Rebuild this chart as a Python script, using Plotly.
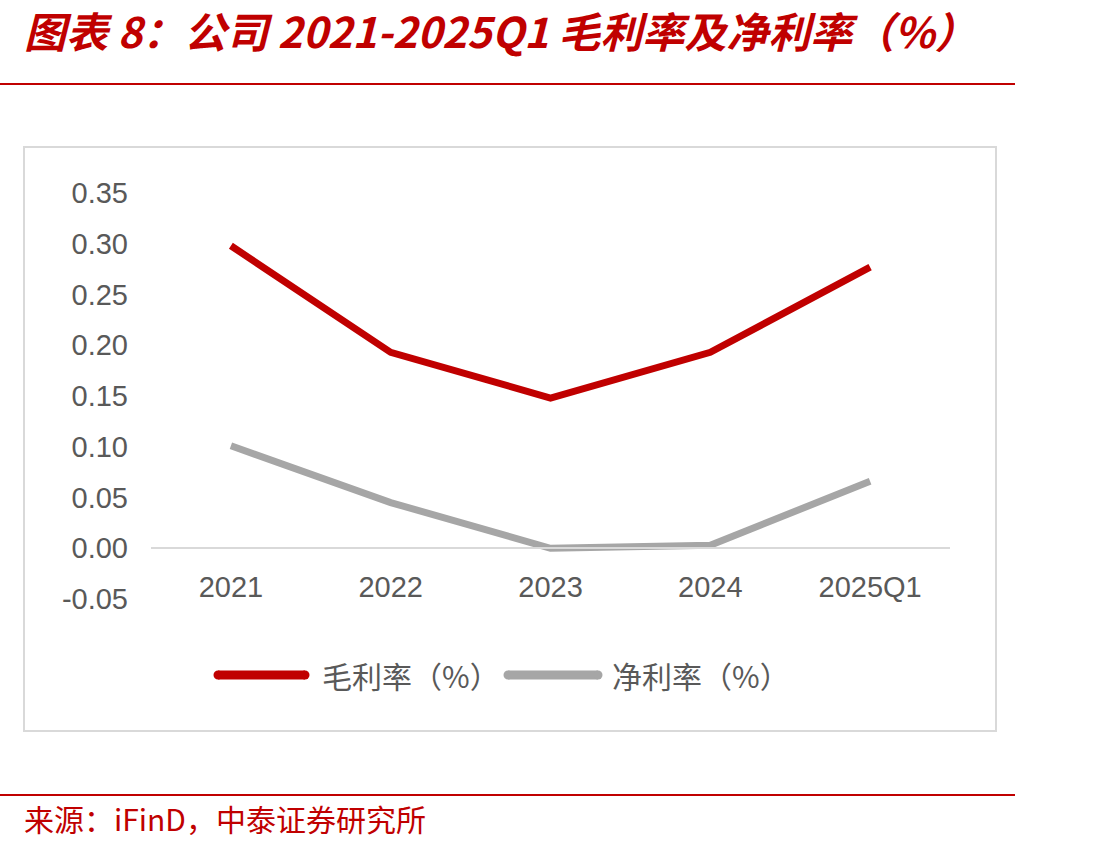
import plotly.graph_objects as go

categories = ["2021", "2022", "2023", "2024", "2025Q1"]
gross_margin = [0.298, 0.193, 0.148, 0.193, 0.277]
net_margin = [0.101, 0.045, 0.000, 0.003, 0.066]
series_names = ["毛利率（%）", "净利率（%）"]
y_ticks = [-0.05, 0.00, 0.05, 0.10, 0.15, 0.20, 0.25, 0.30, 0.35]
y_tick_labels = ["-0.05", "0.00", "0.05", "0.10", "0.15", "0.20", "0.25", "0.30", "0.35"]
title_text = "图表 8：公司 2021-2025Q1 毛利率及净利率（%）"
source_text = "来源：iFinD，中泰证券研究所"

W, H = 1110, 848
L, R, T, B = 151, 950, 193, 599
RED = "#c00000"
GRAY = "#a6a6a6"
TXT = "#595959"

def px(x):
    return (x - L) / (R - L)

def py(y):
    return (B - y) / (B - T)

fig = go.Figure()
fig.add_trace(go.Scatter(x=categories, y=gross_margin, mode="lines", name=series_names[0],
                         line=dict(color=RED, width=7), showlegend=False, hoverinfo="skip"))
fig.add_trace(go.Scatter(x=categories, y=net_margin, mode="lines", name=series_names[1],
                         line=dict(color=GRAY, width=7), showlegend=False, hoverinfo="skip"))

ymin, ymax = y_ticks[0], y_ticks[-1]
zero_pos = (0 - ymin) / (ymax - ymin)

fig.update_layout(
    width=W, height=H,
    margin=dict(l=L, r=W - R, t=T, b=H - B, pad=0),
    paper_bgcolor="white", plot_bgcolor="white",
    font=dict(family="Liberation Sans, Arial, sans-serif", color=TXT),
    xaxis=dict(type="category", range=[-0.5, len(categories) - 0.5],
               anchor="free", position=zero_pos,
               showline=True, linecolor="#d9d9d9", linewidth=2,
               showgrid=False, zeroline=False, ticks="",
               tickfont=dict(size=29, color=TXT), ticklabelstandoff=13),
    yaxis=dict(range=[ymin, ymax], tickvals=y_ticks, ticktext=y_tick_labels,
               showgrid=False, zeroline=False, showline=False, ticks="",
               tickfont=dict(size=29, color=TXT), ticklabelstandoff=22),
)

shapes = []
# outer chart frame
shapes.append(dict(type="rect", xref="paper", yref="paper",
                   x0=px(24), x1=px(996), y0=py(731), y1=py(147),
                   line=dict(color="#d9d9d9", width=2), fillcolor="rgba(0,0,0,0)", layer="below"))
# header and footer red rules
for yy in (84, 795):
    shapes.append(dict(type="line", xref="paper", yref="paper",
                       x0=px(0), x1=px(1015), y0=py(yy), y1=py(yy),
                       line=dict(color=RED, width=2)))

# manual legend
legend_items = [(218, 305, 320, RED), (508, 598, 610, GRAY)]
ly = 675
for (lx0, lx1, tx, col), name in zip(legend_items, series_names):
    shapes.append(dict(type="line", xref="paper", yref="paper",
                       x0=px(lx0), x1=px(lx1), y0=py(ly), y1=py(ly),
                       line=dict(color=col, width=9)))
    for cx in (lx0, lx1):
        shapes.append(dict(type="circle", xref="paper", yref="paper",
                           x0=px(cx - 4.5), x1=px(cx + 4.5), y0=py(ly + 4.5), y1=py(ly - 4.5),
                           line=dict(width=0), fillcolor=col))
    fig.add_annotation(xref="paper", yref="paper", x=px(tx), y=py(ly), text=name,
                       showarrow=False, xanchor="left", yanchor="middle",
                       font=dict(family="Noto Sans CJK SC", size=30, color=TXT))

fig.update_layout(shapes=shapes)

fig.add_annotation(xref="paper", yref="paper", x=px(22), y=py(29), text=title_text,
                   showarrow=False, xanchor="left", yanchor="middle",
                   font=dict(family="Noto Sans CJK SC", size=42, color=RED,
                             weight="bold", style="italic"))
fig.add_annotation(xref="paper", yref="paper", x=px(22), y=py(818), text=source_text,
                   showarrow=False, xanchor="left", yanchor="middle",
                   font=dict(family="Noto Sans CJK SC", size=30, color=RED))

fig.write_html("out.html")
